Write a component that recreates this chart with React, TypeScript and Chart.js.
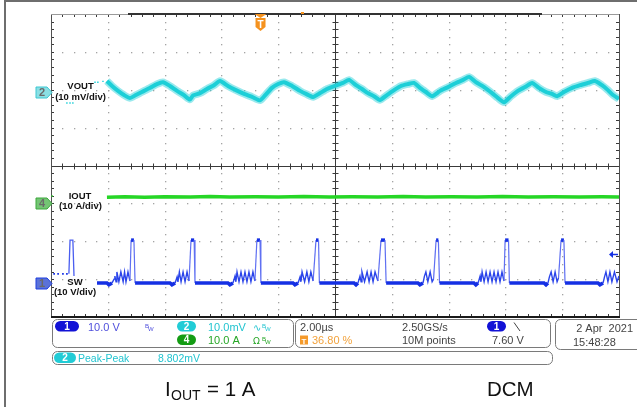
import React, { useEffect, useRef } from "react";
import { Chart, registerables } from "chart.js";
Chart.register(...registerables);

// ---- scope settings ----
const TIME_PER_DIV = 2; // µs/div
const H_DIVS = 10;
const V_DIVS = 8;
const TRIGGER_POS_PCT = 36.8;
const TRIGGER_LEVEL_V = 7.6;
const RECORD_BAR = [2.71, 17.29]; // µs, visible record window bar
const RECORD_TRIG_MARK = 8.84; // µs

const CH1_SCALE = 10; // V/div  (SW)
const CH2_SCALE = 10; // mV/div (VOUT)
const CH4_SCALE = 10; // A/div  (IOUT)
const CH1_OFFSET = -3.1; // div
const CH2_OFFSET = 1.94; // div
const CH4_OFFSET = -0.99; // div

// ---- waveforms: [time µs, value] ----
const voutPoints: [number, number][] = [
  [1.97, 2.9], [2.15, 1.6], [2.36, 0.3], [2.57, -0.8], [2.78, -1.6], [2.99, -0.8], [3.2, 0.0],
  [3.49, 1.1], [3.73, 2.1], [3.94, 2.6], [4.19, 1.6], [4.44, 0.3], [4.68, -0.8], [4.89, -2.0], [5.0, -0.9],
  [5.25, -0.3], [5.49, 0.8], [5.74, 1.8], [5.95, 2.9], [6.23, 1.6], [6.51, 0.5], [6.8, -0.5], [7.08, -1.3],
  [7.36, -2.2], [7.57, -0.6], [7.78, 1.1], [8.0, 2.1], [8.2, 2.6], [8.49, 1.6], [8.77, 0.3], [8.98, -0.5],
  [9.23, -1.3], [9.47, -0.3], [9.72, 0.8], [10.0, 1.6], [10.28, 2.4], [10.49, 3.2], [10.74, 1.8], [10.95, 0.8],
  [11.16, -0.3], [11.37, -1.1], [11.58, -2.1], [11.83, -0.8], [12.08, 0.5], [12.32, 1.6], [12.57, 2.1], [12.78, 2.4],
  [12.99, 1.1], [13.2, 0.0], [13.42, -1.1], [13.7, 0.3], [13.98, 1.3], [14.26, 2.4], [14.51, 3.2], [14.72, 4.0],
  [14.96, 2.6], [15.25, 1.3], [15.53, -0.3], [15.74, -1.6], [15.95, -2.7], [16.2, -1.1], [16.44, 0.3], [16.69, 1.3],
  [16.94, 2.4], [17.18, 1.1], [17.43, 0.0], [17.64, -0.5], [17.82, -1.1], [18.06, 0.0], [18.35, 1.1], [18.63, 1.8],
  [18.91, 2.4], [19.15, 2.9], [19.4, 1.8], [19.61, 0.5], [19.79, -0.8], [20.0, -1.8],
];
const voutPreDots: [number, number][] = [
  [0.56, -2.9], [0.67, -2.9], [0.77, -2.9], [1.55, 2.6], [1.65, 2.6], [1.83, 2.8],
];

const ioutPoints: [number, number][] = [
  [1.97, 1.55], [2.6, 1.65], [3.3, 1.55], [4.0, 1.65], [4.9, 1.6], [5.6, 1.7], [6.3, 1.6], [7.2, 1.65],
  [8.0, 1.6], [8.9, 1.7], [9.8, 1.6], [10.6, 1.65], [11.5, 1.6], [12.4, 1.7], [13.2, 1.6], [14.1, 1.65],
  [15.0, 1.6], [15.9, 1.7], [16.8, 1.6], [17.7, 1.65], [18.6, 1.6], [19.4, 1.65], [20.0, 1.6],
];
const ioutPreDots: [number, number][] = [[0.04, 1.85]];

const swPreDots: [number, number][] = [[0.11, 2.4], [0.25, 2.4], [0.42, 2.4], [0.56, 2.4]];
const swPrePulse: [number, number][] = [[0.63, 2.4], [0.67, 11.3], [0.77, 11.3], [0.81, 1.8]];
const swPoints: [number, number][] = [
  [1.62, 0], [1.97, 0], [2.04, -0.5], [2.15, 0], [2.22, 1.0], [2.25, 1.8], [2.29, 0.3], [2.32, 2.9], [2.39, 0.3], [2.46, 2.9], [2.54, 0.3], [2.59, 2.9], [2.64, 0.3], [2.71, 2.9], [2.78, 0.5], [2.82, 11.3], [2.92, 11.3], [2.96, 0],
  [4.19, 0], [4.26, -0.5], [4.37, 0], [4.44, 1.6], [4.47, 0.3], [4.52, 2.9], [4.58, 0.3], [4.65, 2.9], [4.72, 0.3], [4.79, 2.9], [4.86, 0.5], [4.93, 11.3], [5.04, 11.3], [5.07, 0],
  [6.23, 0], [6.3, -0.5], [6.41, 0], [6.48, 1.8], [6.51, 0.3], [6.55, 2.9], [6.62, 0.3], [6.69, 2.9], [6.76, 0.3], [6.83, 2.9], [6.9, 0.3], [6.97, 2.9], [7.04, 0.3], [7.11, 2.9], [7.18, 0.5], [7.25, 11.3], [7.36, 11.3], [7.39, 0],
  [8.52, 0], [8.59, -0.5], [8.7, 0], [8.77, 1.6], [8.8, 0.3], [8.84, 2.9], [8.93, 0.3], [9.01, 2.9], [9.08, 0.3], [9.15, 2.9], [9.23, 0.5], [9.33, 11.3], [9.42, 11.3], [9.45, 0],
  [10.67, 0], [10.74, -0.5], [10.81, 0], [10.88, 1.8], [10.92, 0.3], [10.95, 2.9], [11.04, 0.3], [11.13, 2.9], [11.2, 0.3], [11.27, 2.9], [11.34, 0.3], [11.41, 2.9], [11.51, 0.5], [11.62, 11.3], [11.76, 11.3], [11.8, 0],
  [12.92, 0], [12.99, -0.5], [13.1, 0], [13.15, 1.8], [13.2, 2.9], [13.27, 0.3], [13.35, 2.9], [13.42, 0.3], [13.47, 1.0], [13.56, 11.3], [13.64, 11.3], [13.68, 0],
  [14.89, 0], [14.96, -0.5], [15.04, 0], [15.11, 1.8], [15.14, 0.3], [15.18, 2.9], [15.25, 0.3], [15.32, 2.9], [15.39, 0.3], [15.46, 2.9], [15.53, 0.3], [15.6, 2.9], [15.67, 0.3], [15.74, 2.9], [15.81, 0.3], [15.88, 2.9], [15.95, 0.5], [15.99, 11.3], [16.11, 11.3], [16.14, 0],
  [17.36, 0], [17.43, -0.5], [17.5, 0], [17.55, 1.6], [17.61, 2.9], [17.68, 0.3], [17.75, 2.9], [17.82, 0.3], [17.87, 1.3], [17.96, 11.3], [18.06, 11.3], [18.1, 0],
  [19.26, 0], [19.33, -0.5], [19.44, 0], [19.49, 1.6], [19.54, 2.9], [19.61, 0.3], [19.68, 2.9], [19.75, 0.3], [19.84, 2.9], [19.93, 0.3], [20.0, 1.8],
];

// ---- labels ----
const channelLabels = [
  { ch: "2", name: "VOUT", unit: "(10 mV/div)", offset: CH2_OFFSET, fill: "#8adfe4", stroke: "#3cc8d2" },
  { ch: "4", name: "IOUT", unit: "(10 A/div)", offset: CH4_OFFSET, fill: "#74c474", stroke: "#3aa83a" },
  { ch: "1", name: "SW", unit: "(10 V/div)", offset: CH1_OFFSET, fill: "#5b72d8", stroke: "#1f3ee0" },
];

const C_BLUE = "#1530e4";
const C_CYAN = "#1ccfd8";
const C_GREEN = "#26d626";
const C_ORANGE = "#f5921e";
const FONT = "'Liberation Sans', Arial, sans-serif";

const toDiv = (pts: [number, number][], scale: number, off: number) =>
  pts.map(([t, v]) => ({ x: t, y: off + v / scale }));

function rr(ctx: CanvasRenderingContext2D, x: number, y: number, w: number, h: number, r: number) {
  ctx.beginPath();
  ctx.moveTo(x + r, y);
  ctx.lineTo(x + w - r, y);
  ctx.arcTo(x + w, y, x + w, y + r, r);
  ctx.lineTo(x + w, y + h - r);
  ctx.arcTo(x + w, y + h, x + w - r, y + h, r);
  ctx.lineTo(x + r, y + h);
  ctx.arcTo(x, y + h, x, y + h - r, r);
  ctx.lineTo(x, y + r);
  ctx.arcTo(x, y, x + r, y, r);
  ctx.closePath();
}

function text(ctx: CanvasRenderingContext2D, s: string, x: number, y: number, font: string, color: string, align: CanvasTextAlign = "left", base: CanvasTextBaseline = "alphabetic") {
  ctx.font = font;
  ctx.fillStyle = color;
  ctx.textAlign = align;
  ctx.textBaseline = base;
  ctx.fillText(s, x, y);
}

function pill(ctx: CanvasRenderingContext2D, x: number, y: number, w: number, h: number, color: string, s: string) {
  rr(ctx, x, y, w, h, h / 2);
  ctx.fillStyle = color;
  ctx.fill();
  text(ctx, s, x + w / 2, y + h / 2 + 0.5, `bold 10px ${FONT}`, "#fff", "center", "middle");
}

function bw(ctx: CanvasRenderingContext2D, x: number, y: number, color: string) {
  text(ctx, "B", x, y - 3, `6px ${FONT}`, color);
  text(ctx, "W", x + 3, y, `6px ${FONT}`, color);
}

const scopePlugin = {
  id: "scope",
  beforeDatasetsDraw(chart: any) {
    const { ctx, chartArea: a, scales } = chart;
    const xs = scales.x, ys = scales.y;
    ctx.save();
    // document frame
    ctx.fillStyle = "#6e6e6e";
    ctx.fillRect(4, 0, 2, 407);
    ctx.fillRect(4, 0, 633, 2);

    const tMax = H_DIVS * TIME_PER_DIV;
    const xPix = (t: number) => Math.round(xs.getPixelForValue(t));
    const yPix = (d: number) => Math.round(ys.getPixelForValue(d));

    // dotted grid
    ctx.fillStyle = "#a4a4a4";
    for (let i = 1; i < H_DIVS; i++) {
      if (i === H_DIVS / 2) continue;
      const px = xPix(i * TIME_PER_DIV);
      for (let j = 1; j < V_DIVS * 5; j++) ctx.fillRect(px, yPix(-V_DIVS / 2 + j / 5), 1.3, 1.3);
    }
    for (let j = 1; j < V_DIVS; j++) {
      if (j === V_DIVS / 2) continue;
      const py = yPix(-V_DIVS / 2 + j);
      for (let i = 1; i < H_DIVS * 5; i++) ctx.fillRect(xPix((i / 5) * TIME_PER_DIV), py, 1.3, 1.3);
    }

    // centre crosshair
    ctx.strokeStyle = "#3a3a3a";
    ctx.lineWidth = 1;
    const cx = xPix(tMax / 2) + 0.5, cy = yPix(0) + 0.5;
    ctx.beginPath();
    ctx.moveTo(a.left, cy); ctx.lineTo(a.right, cy);
    ctx.moveTo(cx, a.top); ctx.lineTo(cx, a.bottom);
    for (let i = 1; i < H_DIVS * 5; i++) {
      const px = xPix((i / 5) * TIME_PER_DIV) + 0.5;
      ctx.moveTo(px, cy - 3); ctx.lineTo(px, cy + 3);
      ctx.moveTo(px, a.top); ctx.lineTo(px, a.top + 3);
      ctx.moveTo(px, a.bottom - 3); ctx.lineTo(px, a.bottom);
    }
    for (let j = 1; j < V_DIVS * 5; j++) {
      const py = yPix(-V_DIVS / 2 + j / 5) + 0.5;
      ctx.moveTo(cx - 3, py); ctx.lineTo(cx + 3, py);
      ctx.moveTo(a.left, py); ctx.lineTo(a.left + 3, py);
      ctx.moveTo(a.right - 3, py); ctx.lineTo(a.right, py);
    }
    ctx.stroke();

    // borders
    ctx.strokeStyle = "#505050";
    ctx.beginPath();
    ctx.moveTo(a.left + 0.5, a.top); ctx.lineTo(a.left + 0.5, a.bottom);
    ctx.moveTo(a.right + 0.5, a.top); ctx.lineTo(a.right + 0.5, a.bottom);
    ctx.stroke();
    ctx.strokeStyle = "#9a9a9a";
    ctx.beginPath();
    ctx.moveTo(a.left, a.top + 0.5); ctx.lineTo(a.right, a.top + 0.5);
    ctx.stroke();
    ctx.fillStyle = "#333";
    ctx.fillRect(xPix(RECORD_BAR[0]), a.top - 1, xPix(RECORD_BAR[1]) - xPix(RECORD_BAR[0]), 2);
    ctx.fillStyle = "#1a1a1a";
    ctx.fillRect(a.left, a.bottom - 1, a.right - a.left + 1, 2);
    ctx.restore();
  },
  afterDatasetsDraw(chart: any) {
    const { ctx, chartArea: a, scales } = chart;
    const xs = scales.x, ys = scales.y;
    ctx.save();

    // record trigger mark
    ctx.fillStyle = C_ORANGE;
    ctx.fillRect(Math.round(xs.getPixelForValue(RECORD_TRIG_MARK)) - 1, a.top - 2, 3, 2);

    // trigger T marker
    const tx = xs.getPixelForValue((TRIGGER_POS_PCT / 100) * H_DIVS * TIME_PER_DIV) + 0.5;
    ctx.fillStyle = C_ORANGE;
    ctx.beginPath();
    ctx.moveTo(tx - 6, a.top); ctx.lineTo(tx + 6, a.top); ctx.lineTo(tx, a.top + 4); ctx.closePath();
    ctx.fill();
    ctx.beginPath();
    ctx.moveTo(tx - 5, a.top + 4); ctx.lineTo(tx + 5, a.top + 4); ctx.lineTo(tx + 5, a.top + 13);
    ctx.lineTo(tx, a.top + 17); ctx.lineTo(tx - 5, a.top + 13); ctx.closePath();
    ctx.fill();
    text(ctx, "T", tx, a.top + 14, `bold 10px ${FONT}`, "#fff", "center");

    // channel markers and labels
    channelLabels.forEach((c) => {
      const y = Math.round(ys.getPixelForValue(c.offset)) + 0.5;
      ctx.beginPath();
      ctx.moveTo(36, y - 5.5); ctx.lineTo(47, y - 5.5); ctx.lineTo(52, y); ctx.lineTo(47, y + 5.5); ctx.lineTo(36, y + 5.5); ctx.closePath();
      ctx.fillStyle = c.fill; ctx.fill();
      ctx.strokeStyle = c.stroke; ctx.lineWidth = 1; ctx.stroke();
      text(ctx, c.ch, 42, y + 0.5, `bold 11px ${FONT}`, "#6a6a6a", "center", "middle");
    });
    const lab = (s: string, x: number, y: number) => text(ctx, s, x, y, `bold 9.5px ${FONT}`, "#111", "center", "middle");
    lab("VOUT", 80.5, 86); lab("(10 mV/div)", 80.5, 97);
    lab("IOUT", 80, 196.5); lab("(10 A/div)", 80.5, 206.5);
    lab("SW", 75, 282.5); lab("(10 V/div)", 75, 292.5);

    // trigger level arrow
    const ay = Math.round(ys.getPixelForValue(CH1_OFFSET + TRIGGER_LEVEL_V / CH1_SCALE)) + 0.5;
    ctx.strokeStyle = C_BLUE; ctx.fillStyle = C_BLUE; ctx.lineWidth = 1.5;
    ctx.beginPath(); ctx.moveTo(612, ay); ctx.lineTo(618, ay); ctx.stroke();
    ctx.beginPath(); ctx.moveTo(609, ay); ctx.lineTo(613, ay - 3.5); ctx.lineTo(613, ay + 3.5); ctx.closePath(); ctx.fill();

    // ---- info panels ----
    ctx.strokeStyle = "#7a7a7a"; ctx.lineWidth = 1;
    rr(ctx, 52.5, 319.5, 241, 28, 5); ctx.stroke();
    rr(ctx, 52.5, 351.5, 500, 13, 5); ctx.stroke();
    rr(ctx, 295.5, 319.5, 255, 28, 5); ctx.stroke();
    rr(ctx, 555.5, 319.5, 100, 30, 5); ctx.stroke();

    const f11 = `11px ${FONT}`;
    pill(ctx, 55, 321, 24, 10.5, "#1212d6", "1");
    text(ctx, "10.0 V", 88, 331, f11, "#5050dc");
    bw(ctx, 145, 331, "#5050dc");
    pill(ctx, 177, 321, 19, 10.5, "#22ccd6", "2");
    text(ctx, "10.0mV", 208, 331, f11, "#22c4d0");
    text(ctx, "∿", 253, 331, `10px 'DejaVu Sans', sans-serif`, "#22c4d0");
    bw(ctx, 262, 331, "#22c4d0");
    pill(ctx, 177, 334.5, 19, 10.5, "#149c14", "4");
    text(ctx, "10.0 A", 208, 344, f11, "#26a626");
    text(ctx, "Ω", 253, 344, `9px 'DejaVu Sans', sans-serif`, "#26a626");
    bw(ctx, 262, 344, "#26a626");

    pill(ctx, 54, 352.5, 22, 10.5, "#22ccd6", "2");
    text(ctx, "Peak-Peak", 78, 362, `10.5px ${FONT}`, "#22c4d0");
    text(ctx, "8.802mV", 158, 362, `10.5px ${FONT}`, "#22c4d0");

    text(ctx, "2.00µs", 300, 331, f11, "#444");
    ctx.fillStyle = "#f59a2a"; ctx.fillRect(300, 335.5, 8, 9);
    text(ctx, "T", 304, 343.5, `bold 8px ${FONT}`, "#fff", "center");
    text(ctx, "36.80 %", 312, 344, f11, "#f2a23c");
    text(ctx, "2.50GS/s", 402, 331, f11, "#444");
    text(ctx, "10M points", 402, 344, f11, "#444");
    pill(ctx, 487, 321, 19, 10.5, "#1212d6", "1");
    ctx.strokeStyle = "#444"; ctx.lineWidth = 1;
    ctx.beginPath(); ctx.moveTo(514, 322.5); ctx.lineTo(520, 331); ctx.stroke();
    text(ctx, "7.60 V", 492, 344, f11, "#444");

    text(ctx, "2 Apr  2021", 633, 331.5, f11, "#444", "right");
    text(ctx, "15:48:28", 573, 346, f11, "#444");

    // caption
    text(ctx, "I", 165, 396, `20.5px ${FONT}`, "#111");
    text(ctx, "OUT", 171, 400, `14px ${FONT}`, "#111");
    text(ctx, "= 1 A", 207, 396, `20.5px ${FONT}`, "#111");
    text(ctx, "DCM", 487, 396, `20.5px ${FONT}`, "#111");
    ctx.restore();
  },
};

export default function App() {
  const ref = useRef<HTMLCanvasElement>(null);
  useEffect(() => {
    document.body.style.margin = "0";
    const swLine = swPoints;
    const vout = toDiv(voutPoints, CH2_SCALE, CH2_OFFSET);
    const chart = new Chart(ref.current as HTMLCanvasElement, {
      type: "line",
      data: {
        datasets: [
          { data: vout, borderColor: "rgba(28,207,216,0.45)", borderWidth: 7.5, borderJoinStyle: "round", tension: 0.2 },
          { data: vout, borderColor: C_CYAN, borderWidth: 4, borderJoinStyle: "round", tension: 0.2 },
          { data: toDiv(voutPreDots, CH2_SCALE, CH2_OFFSET), showLine: false, pointRadius: 1, pointStyle: "rect", pointBackgroundColor: C_CYAN, pointBorderWidth: 0 },
          { data: toDiv(ioutPoints, CH4_SCALE, CH4_OFFSET), borderColor: C_GREEN, borderWidth: 3.5 },
          { data: toDiv(ioutPreDots, CH4_SCALE, CH4_OFFSET), showLine: false, pointRadius: 1, pointStyle: "rect", pointBackgroundColor: C_GREEN, pointBorderWidth: 0 },
          { data: toDiv(swPreDots, CH1_SCALE, CH1_OFFSET), showLine: false, pointRadius: 1.2, pointStyle: "rect", pointBackgroundColor: C_BLUE, pointBorderWidth: 0 },
          { data: toDiv(swPrePulse, CH1_SCALE, CH1_OFFSET), borderColor: "#4a5ef0", borderWidth: 1.3 },
          {
            data: toDiv(swLine, CH1_SCALE, CH1_OFFSET),
            borderColor: C_BLUE,
            borderWidth: 1.6,
            segment: {
              borderWidth: (c: any) => {
                const v0 = swLine[c.p0DataIndex][1], v1 = swLine[c.p1DataIndex][1];
                if (Math.abs(v0 - v1) > 5) return 1.2;
                if (v0 > 10 && v1 > 10) return 3.5;
                if (Math.abs(v0) < 0.6 && Math.abs(v1) < 0.6) return 3.5;
                return 1.4;
              },
              borderColor: (c: any) => {
                const v0 = swLine[c.p0DataIndex][1], v1 = swLine[c.p1DataIndex][1];
                if (Math.abs(v0 - v1) > 5) return "#5f70f2";
                if (Math.abs(v0) < 0.6 && Math.abs(v1) < 0.6) return undefined;
                if (v0 > 10 && v1 > 10) return undefined;
                return "#2a44ea";
              },
            },
          },
        ],
      },
      options: {
        animation: false,
        responsive: false,
        devicePixelRatio: 1,
        layout: { padding: { left: 51, right: 18, top: 14, bottom: 90 } },
        elements: { point: { radius: 0 }, line: { tension: 0 } },
        scales: {
          x: { type: "linear", min: 0, max: H_DIVS * TIME_PER_DIV, display: false },
          y: { type: "linear", min: -V_DIVS / 2, max: V_DIVS / 2, display: false },
        },
        plugins: { legend: { display: false }, tooltip: { enabled: false } },
      },
      plugins: [scopePlugin],
    } as any);
    return () => chart.destroy();
  }, []);
  return (
    <div style={{ position: "absolute", left: 0, top: 0, width: 637, height: 407, background: "#fff" }}>
      <canvas ref={ref} width={637} height={407} style={{ display: "block" }} />
    </div>
  );
}
